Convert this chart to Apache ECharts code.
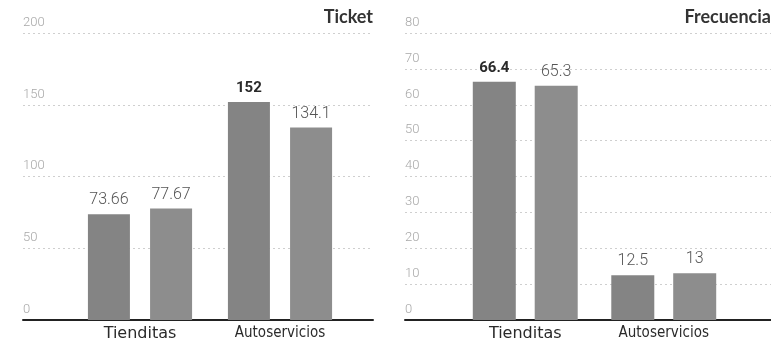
<!DOCTYPE html>
<html>
<head>
<meta charset="utf-8">
<script src="https://cdn.jsdelivr.net/npm/echarts@6/dist/echarts.min.js"></script>
<style>
  html, body { margin: 0; padding: 0; background: #fff; }
  #chart { width: 771px; height: 347px; }
</style>
</head>
<body>
<div id="chart"></div>
<script>
// Categories shared by both panels
const categories = ['Tienditas', 'Autoservicios'];

// Ticket (left panel)
const ticketA = [73.66, 152];
const ticketB = [77.67, 134.1];
const ticketMax = 200;
const ticketStep = 50;

// Frecuencia (right panel)
const freqA = [66.4, 12.5];
const freqB = [65.3, 13];
const freqMax = 80;
const freqStep = 10;

const GRID_TOP = 33;
const GRID_H = 287;

const chart = echarts.init(document.getElementById('chart'), null, { renderer: 'canvas' });

function frameX(gridIndex) {
  return {
    gridIndex, type: 'value', min: 0, max: 1,
    axisLine: { show: true, onZero: false, lineStyle: { color: '#222', width: 2 } },
    axisTick: { show: false }, axisLabel: { show: false }, splitLine: { show: false }
  };
}
function catX(gridIndex) {
  return {
    gridIndex, type: 'category', data: categories,
    axisLine: { show: false }, axisTick: { show: false },
    axisLabel: {
      margin: 6,
      formatter: (v, i) => (i === 1 ? '{n|' + v + '}' : '{w|' + v + '}'),
      rich: {
        w: { fontFamily: 'DejaVu Sans', fontSize: 16, color: '#2a2a2a' },
        n: { fontFamily: '"DejaVu Sans Condensed", "Liberation Sans Narrow", sans-serif', fontSize: 15, color: '#2a2a2a' }
      }
    }
  };
}
function frameY(gridIndex, max, step) {
  return {
    gridIndex, type: 'value', min: 0, max, interval: step,
    axisLine: { show: false }, axisTick: { show: false },
    axisLabel: {
      inside: true, margin: 0, verticalAlign: 'bottom', align: 'left',
      padding: [0, 0, 4, 0],
      color: '#a8a8a8', fontFamily: 'Roboto', fontWeight: 300, fontSize: 13
    },
    splitLine: { show: true, lineStyle: { color: '#cfcfcf', width: 1, type: [2, 3] } }
  };
}
function hiddenY(gridIndex, max, step) {
  return { gridIndex, type: 'value', min: 0, max, interval: step, show: false, splitLine: { show: false } };
}

function barSeries(name, data, xi, yi, color, width, gap, panelMax) {
  return {
    name, type: 'bar', xAxisIndex: xi, yAxisIndex: yi,
    data, barWidth: width, barGap: gap,
    itemStyle: { color },
    label: {
      show: true, position: 'top', distance: 6,
      formatter: p => (p.value === panelMax ? '{b|' + p.value + '}' : '{l|' + p.value + '}'),
      rich: {
        l: { fontFamily: 'Roboto', fontWeight: 300, fontSize: 16, color: '#555' },
        b: { fontFamily: 'Roboto', fontWeight: 'bold', fontSize: 15, color: '#2a2a2a' }
      }
    }
  };
}

const ticketTop = Math.max(...ticketA, ...ticketB);
const freqTop = Math.max(...freqA, ...freqB);

const titleStyle = { fontFamily: 'Lato', fontWeight: 'bold', fontSize: 18, color: '#333' };

chart.setOption({
  animation: false,
  backgroundColor: '#fff',
  title: [
    { text: 'Ticket', right: 398, top: 8, padding: 0, textStyle: titleStyle },
    { text: 'Frecuencia', right: 0, top: 8, padding: 0, textStyle: titleStyle }
  ],
  grid: [
    { left: 23, width: 350, top: GRID_TOP, height: GRID_H },
    { left: 70, width: 280, top: GRID_TOP, height: GRID_H },
    { left: 405, width: 366, top: GRID_TOP, height: GRID_H },
    { left: 456, width: 277, top: GRID_TOP, height: GRID_H }
  ],
  xAxis: [frameX(0), catX(1), frameX(2), catX(3)],
  yAxis: [
    frameY(0, ticketMax, ticketStep), hiddenY(1, ticketMax, ticketStep),
    frameY(2, freqMax, freqStep), hiddenY(3, freqMax, freqStep)
  ],
  series: [
    barSeries('Ticket A', ticketA, 1, 1, '#848484', 42, '48%', ticketTop),
    barSeries('Ticket B', ticketB, 1, 1, '#8d8d8d', 42, '48%', ticketTop),
    barSeries('Frecuencia A', freqA, 3, 3, '#848484', 43, '44%', freqTop),
    barSeries('Frecuencia B', freqB, 3, 3, '#8d8d8d', 43, '44%', freqTop)
  ]
});
</script>
</body>
</html>
